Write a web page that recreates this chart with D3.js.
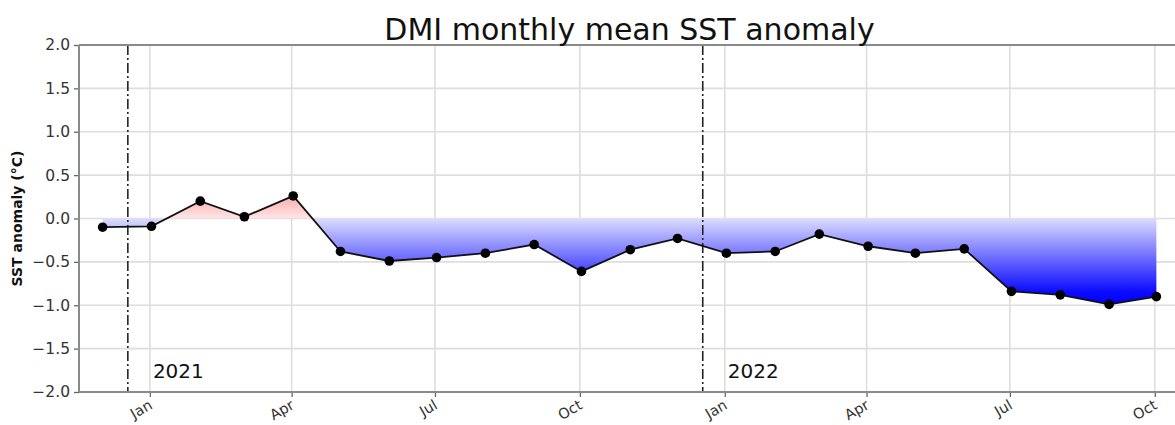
<!DOCTYPE html>
<html>
<head>
<meta charset="utf-8">
<script src="https://cdn.jsdelivr.net/npm/d3@7"></script>
<style>
  body { margin: 0; background: #fff; }
  svg { display: block; font-family: "DejaVu Sans", sans-serif; }
</style>
</head>
<body>
<svg id="chart" width="1175" height="425"></svg>
<script>
// ---- data ----
const months = ["2020-12","2021-01","2021-02","2021-03","2021-04","2021-05","2021-06","2021-07",
  "2021-08","2021-09","2021-10","2021-11","2021-12","2022-01","2022-02","2022-03","2022-04",
  "2022-05","2022-06","2022-07","2022-08","2022-09","2022-10"];
const anomaly = [-0.10,-0.09,0.20,0.02,0.26,-0.38,-0.49,-0.45,-0.40,-0.30,-0.61,-0.36,-0.23,
  -0.40,-0.38,-0.18,-0.32,-0.40,-0.35,-0.84,-0.88,-0.99,-0.90];
const yTicks = [-2.0,-1.5,-1.0,-0.5,0.0,0.5,1.0,1.5,2.0];
const xTickDates = ["2021-01-01","2021-04-01","2021-07-01","2021-10-01","2022-01-01","2022-04-01","2022-07-01","2022-10-01"];
const xTickLabels = ["Jan","Apr","Jul","Oct","Jan","Apr","Jul","Oct"];
const yearMarks = ["2020-12-18","2021-12-18"];
const yearLabels = ["2021","2022"];
const title = "DMI monthly mean SST anomaly";
const yTitle = "SST anomaly (°C)";

// ---- layout ----
const svg = d3.select("#chart");
const M = {left: 79, top: 45, right: 1180, bottom: 392};
const parse = d3.utcParse("%Y-%m-%d");
const x = d3.scaleUtc().domain([parse("2020-11-17"), parse("2022-10-17")]).range([M.left, M.right]);
const y = d3.scaleLinear().domain([-2, 2]).range([M.bottom, M.top]);
const data = months.map((m, i) => ({date: d3.utcDay.offset(parse(m + "-01"), 1), v: anomaly[i]}));

const defs = svg.append("defs");
const clip = defs.append("clipPath").attr("id", "plotclip");
clip.append("rect").attr("x", M.left).attr("y", M.top).attr("width", M.right - M.left).attr("height", M.bottom - M.top);

// gradients (in value space)
const gBlue = defs.append("linearGradient").attr("id", "gBlue").attr("gradientUnits", "userSpaceOnUse")
  .attr("x1", 0).attr("x2", 0).attr("y1", y(0)).attr("y2", y(-1));
gBlue.append("stop").attr("offset", 0).attr("stop-color", "rgb(220,220,255)");
gBlue.append("stop").attr("offset", 0.85).attr("stop-color", "rgb(10,10,255)");
gBlue.append("stop").attr("offset", 1).attr("stop-color", "rgb(0,0,245)");
const gRed = defs.append("linearGradient").attr("id", "gRed").attr("gradientUnits", "userSpaceOnUse")
  .attr("x1", 0).attr("x2", 0).attr("y1", y(0)).attr("y2", y(1));
gRed.append("stop").attr("offset", 0).attr("stop-color", "rgb(255,230,230)");
gRed.append("stop").attr("offset", 1).attr("stop-color", "rgb(255,0,0)");

// grid
const g = svg.append("g").attr("clip-path", "url(#plotclip)");
g.selectAll("line.hg").data(yTicks).join("line")
  .attr("x1", M.left).attr("x2", M.right).attr("y1", d => y(d)).attr("y2", d => y(d))
  .attr("stroke", "#dedede").attr("stroke-width", 1.6);
g.selectAll("line.vg").data(xTickDates).join("line")
  .attr("x1", d => x(parse(d))).attr("x2", d => x(parse(d)))
  .attr("y1", M.top).attr("y2", M.bottom)
  .attr("stroke", "#dedede").attr("stroke-width", 1.6);

// fills
const area = d3.area().x(d => x(d.date)).y0(y(0)).y1(d => y(d.v));
defs.append("clipPath").attr("id", "posclip").append("rect")
  .attr("x", M.left).attr("y", M.top).attr("width", M.right - M.left).attr("height", y(0) - M.top);
defs.append("clipPath").attr("id", "negclip").append("rect")
  .attr("x", M.left).attr("y", y(0)).attr("width", M.right - M.left).attr("height", M.bottom - y(0));
g.append("path").datum(data).attr("d", area).attr("fill", "url(#gRed)").attr("clip-path", "url(#posclip)");
g.append("path").datum(data).attr("d", area).attr("fill", "url(#gBlue)").attr("clip-path", "url(#negclip)");

// year marker lines
g.selectAll("line.yr").data(yearMarks).join("line")
  .attr("x1", d => x(parse(d))).attr("x2", d => x(parse(d)))
  .attr("y1", M.top).attr("y2", M.bottom)
  .attr("stroke", "#222").attr("stroke-width", 1.6)
  .attr("stroke-dasharray", "10,3,2,3");
g.selectAll("text.yr").data(yearLabels).join("text")
  .attr("x", (d, i) => x(parse(xTickDates[i * 4])) + 3).attr("y", y(-1.75) + 8)
  .attr("font-size", 20).attr("fill", "#111").text(d => d);

// line + points
g.append("path").datum(data)
  .attr("d", d3.line().x(d => x(d.date)).y(d => y(d.v)))
  .attr("fill", "none").attr("stroke", "#111").attr("stroke-width", 1.8);
g.selectAll("circle").data(data).join("circle")
  .attr("cx", d => x(d.date)).attr("cy", d => y(d.v)).attr("r", 4.8).attr("fill", "#000");

// axes
const yAxis = d3.axisLeft(y).tickValues(yTicks).tickFormat(d => d3.format(".1f")(d).replace("-", "\u2212")).tickSize(5).tickPadding(4);
const ya = svg.append("g").attr("transform", `translate(${M.left},0)`).call(yAxis);
ya.select(".domain").remove();
ya.selectAll(".tick line").attr("stroke", "#666").attr("stroke-width", 1.3);
ya.selectAll(".tick text").attr("font-size", 15.5).attr("fill", "#333").attr("font-family", "DejaVu Sans");

const xAxis = d3.axisBottom(x).tickValues(xTickDates.map(parse)).tickFormat((d, i) => xTickLabels[i]).tickSize(5);
const xa = svg.append("g").attr("transform", `translate(0,${M.bottom})`).call(xAxis);
xa.select(".domain").remove();
xa.selectAll(".tick line").attr("stroke", "#666").attr("stroke-width", 1.3);
xa.selectAll(".tick text").attr("font-size", 14.5).attr("fill", "#333").attr("font-family", "DejaVu Sans")
  .attr("text-anchor", "end").attr("dy", 0).attr("y", 0)
  .attr("transform", "translate(3,16) rotate(-30)");

// spines
svg.append("line").attr("x1", M.left).attr("x2", M.left).attr("y1", M.top).attr("y2", M.bottom).attr("stroke", "#8a8a8a").attr("stroke-width", 2);
svg.append("line").attr("x1", M.left).attr("x2", M.right).attr("y1", M.bottom).attr("y2", M.bottom).attr("stroke", "#8a8a8a").attr("stroke-width", 2);
svg.append("line").attr("x1", M.left).attr("x2", M.right).attr("y1", M.top).attr("y2", M.top).attr("stroke", "#8a8a8a").attr("stroke-width", 2);

// titles
svg.append("text").attr("x", (M.left + M.right) / 2).attr("y", 40).attr("text-anchor", "middle")
  .attr("font-size", 30).attr("fill", "#111").text(title);
svg.append("text").attr("transform", `translate(22,${(M.top + M.bottom) / 2}) rotate(-90)`)
  .attr("text-anchor", "middle").attr("font-size", 14).attr("font-weight", "bold").attr("fill", "#111").text(yTitle);
</script>
</body>
</html>
